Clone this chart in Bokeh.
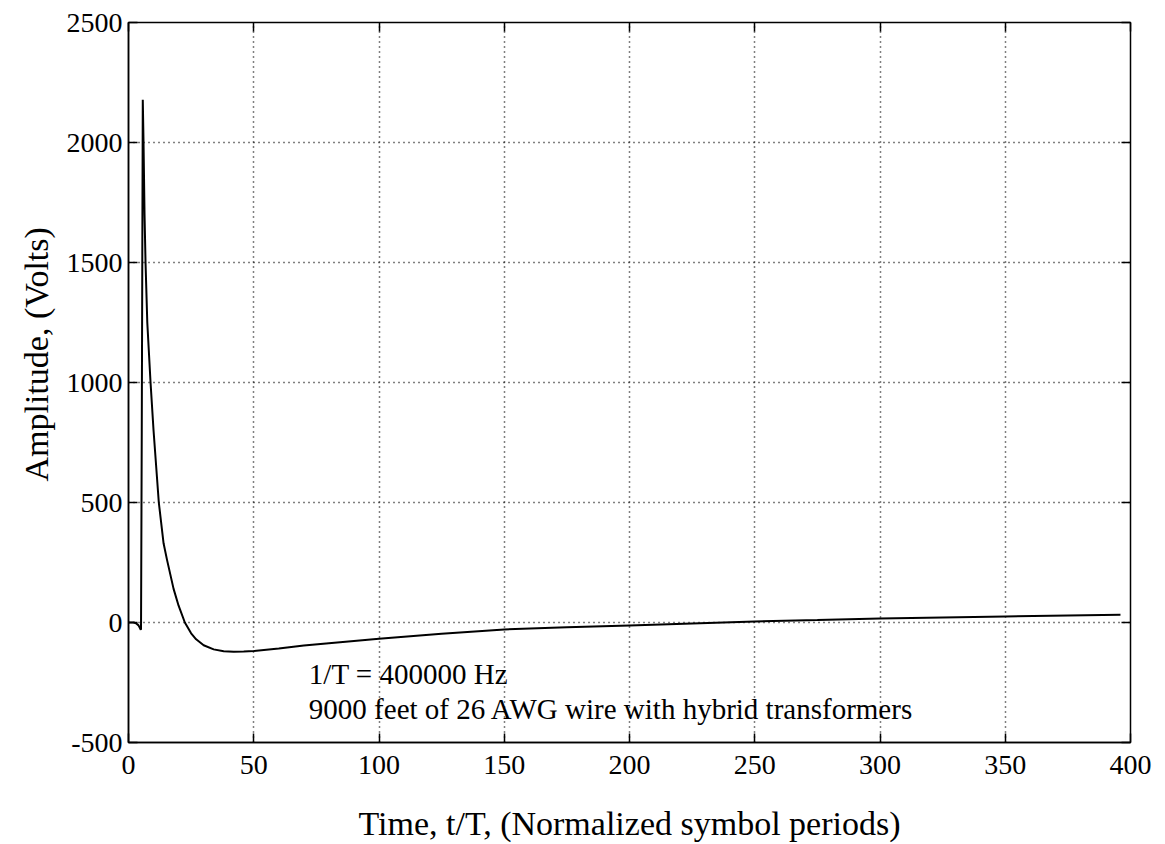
from bokeh.plotting import figure
from bokeh.models import LinearAxis, FixedTicker, Label, Range1d, Title
from bokeh.embed import file_html
from bokeh.resources import INLINE

# Data
t_vals = [0, 1, 2, 3, 4, 4.5, 4.9, 5.0, 5.3, 5.7, 6.0, 6.4, 6.8, 7.5, 8.8, 10, 12.1, 14, 15.4,
          18, 20, 22.5, 25, 27, 30, 34, 38, 42, 46, 50, 60, 70, 80, 90, 100, 125, 150, 175,
          200, 225, 250, 275, 300, 325, 350, 375, 396]
amp_vals = [0, 0, 0, -3, -12, -22, -30, -25, 800, 2178, 2000, 1700, 1500, 1250, 1000, 800, 500,
            330, 260, 140, 70, 0, -45, -70, -95, -112, -120, -122, -121, -119, -108, -96, -86,
            -77, -68, -47, -29, -20, -12, -4, 4, 10, 17, 21, 25, 29, 32]
x_ticks = [0, 50, 100, 150, 200, 250, 300, 350, 400]
y_ticks = [-500, 0, 500, 1000, 1500, 2000, 2500]
x_label = "Time, t/T, (Normalized symbol periods)"
y_label = "Amplitude, (Volts)"
note_lines = ["1/T = 400000 Hz", "9000 feet of 26 AWG wire with hybrid transformers"]
note_x = 72
note_y = [-213, -362]

FONT = "Liberation Serif"

p = figure(width=1165, height=844, output_backend="svg", toolbar_location=None,
           x_range=Range1d(0, 400), y_range=Range1d(-500, 2500),
           min_border_left=128, min_border_right=35, min_border_top=22, min_border_bottom=101,
           x_axis_label=x_label)
p.background_fill_color = "white"
p.border_fill_color = "white"
p.outline_line_color = "black"
p.outline_line_width = 1.5

p.line(t_vals, amp_vals, line_color="black", line_width=2)

for ax, ticks in ((p.xaxis[0], x_ticks), (p.yaxis[0], y_ticks)):
    ax.ticker = FixedTicker(ticks=ticks)
    ax.major_label_overrides = {v: str(v) for v in ticks}
    ax.major_tick_in = 9
    ax.major_tick_out = 0
    ax.minor_tick_line_color = None
    ax.major_tick_line_width = 1.5
    ax.axis_line_width = 1.5
    ax.major_label_text_font = FONT
    ax.major_label_text_font_size = "28px"
    ax.major_label_text_color = "black"
    ax.axis_label_text_font = FONT
    ax.axis_label_text_font_size = "34px"
    ax.axis_label_text_font_style = "normal"
    ax.axis_label_text_color = "black"

p.xaxis[0].major_label_standoff = 13
p.xaxis[0].axis_label_standoff = 28
p.yaxis[0].major_label_standoff = 6

for side, ticks in (("above", x_ticks), ("right", y_ticks)):
    ax = LinearAxis(ticker=FixedTicker(ticks=ticks))
    ax.major_tick_in = 9
    ax.major_tick_out = 0
    ax.minor_tick_line_color = None
    ax.major_tick_line_width = 1.5
    ax.axis_line_color = None
    ax.major_label_text_font_size = "0px"
    ax.major_label_standoff = 0
    p.add_layout(ax, side)

p.xgrid.ticker = FixedTicker(ticks=x_ticks)
p.ygrid.ticker = FixedTicker(ticks=y_ticks)
for g in (p.xgrid[0], p.ygrid[0]):
    g.grid_line_color = "black"
    g.grid_line_dash = "1 4"
    g.grid_line_width = 1.5

for txt, yy in zip(note_lines, note_y):
    p.add_layout(Label(x=note_x, y=yy, text=txt, text_font=FONT, text_font_size="29px",
                       text_color="black", text_baseline="alphabetic"))

p.add_layout(Title(text=y_label, align="left", offset=261, text_font=FONT,
                   text_font_size="34px", text_font_style="normal", text_color="black",
                   standoff=17), "left")

open("out.html", "w").write(file_html(p, INLINE))
